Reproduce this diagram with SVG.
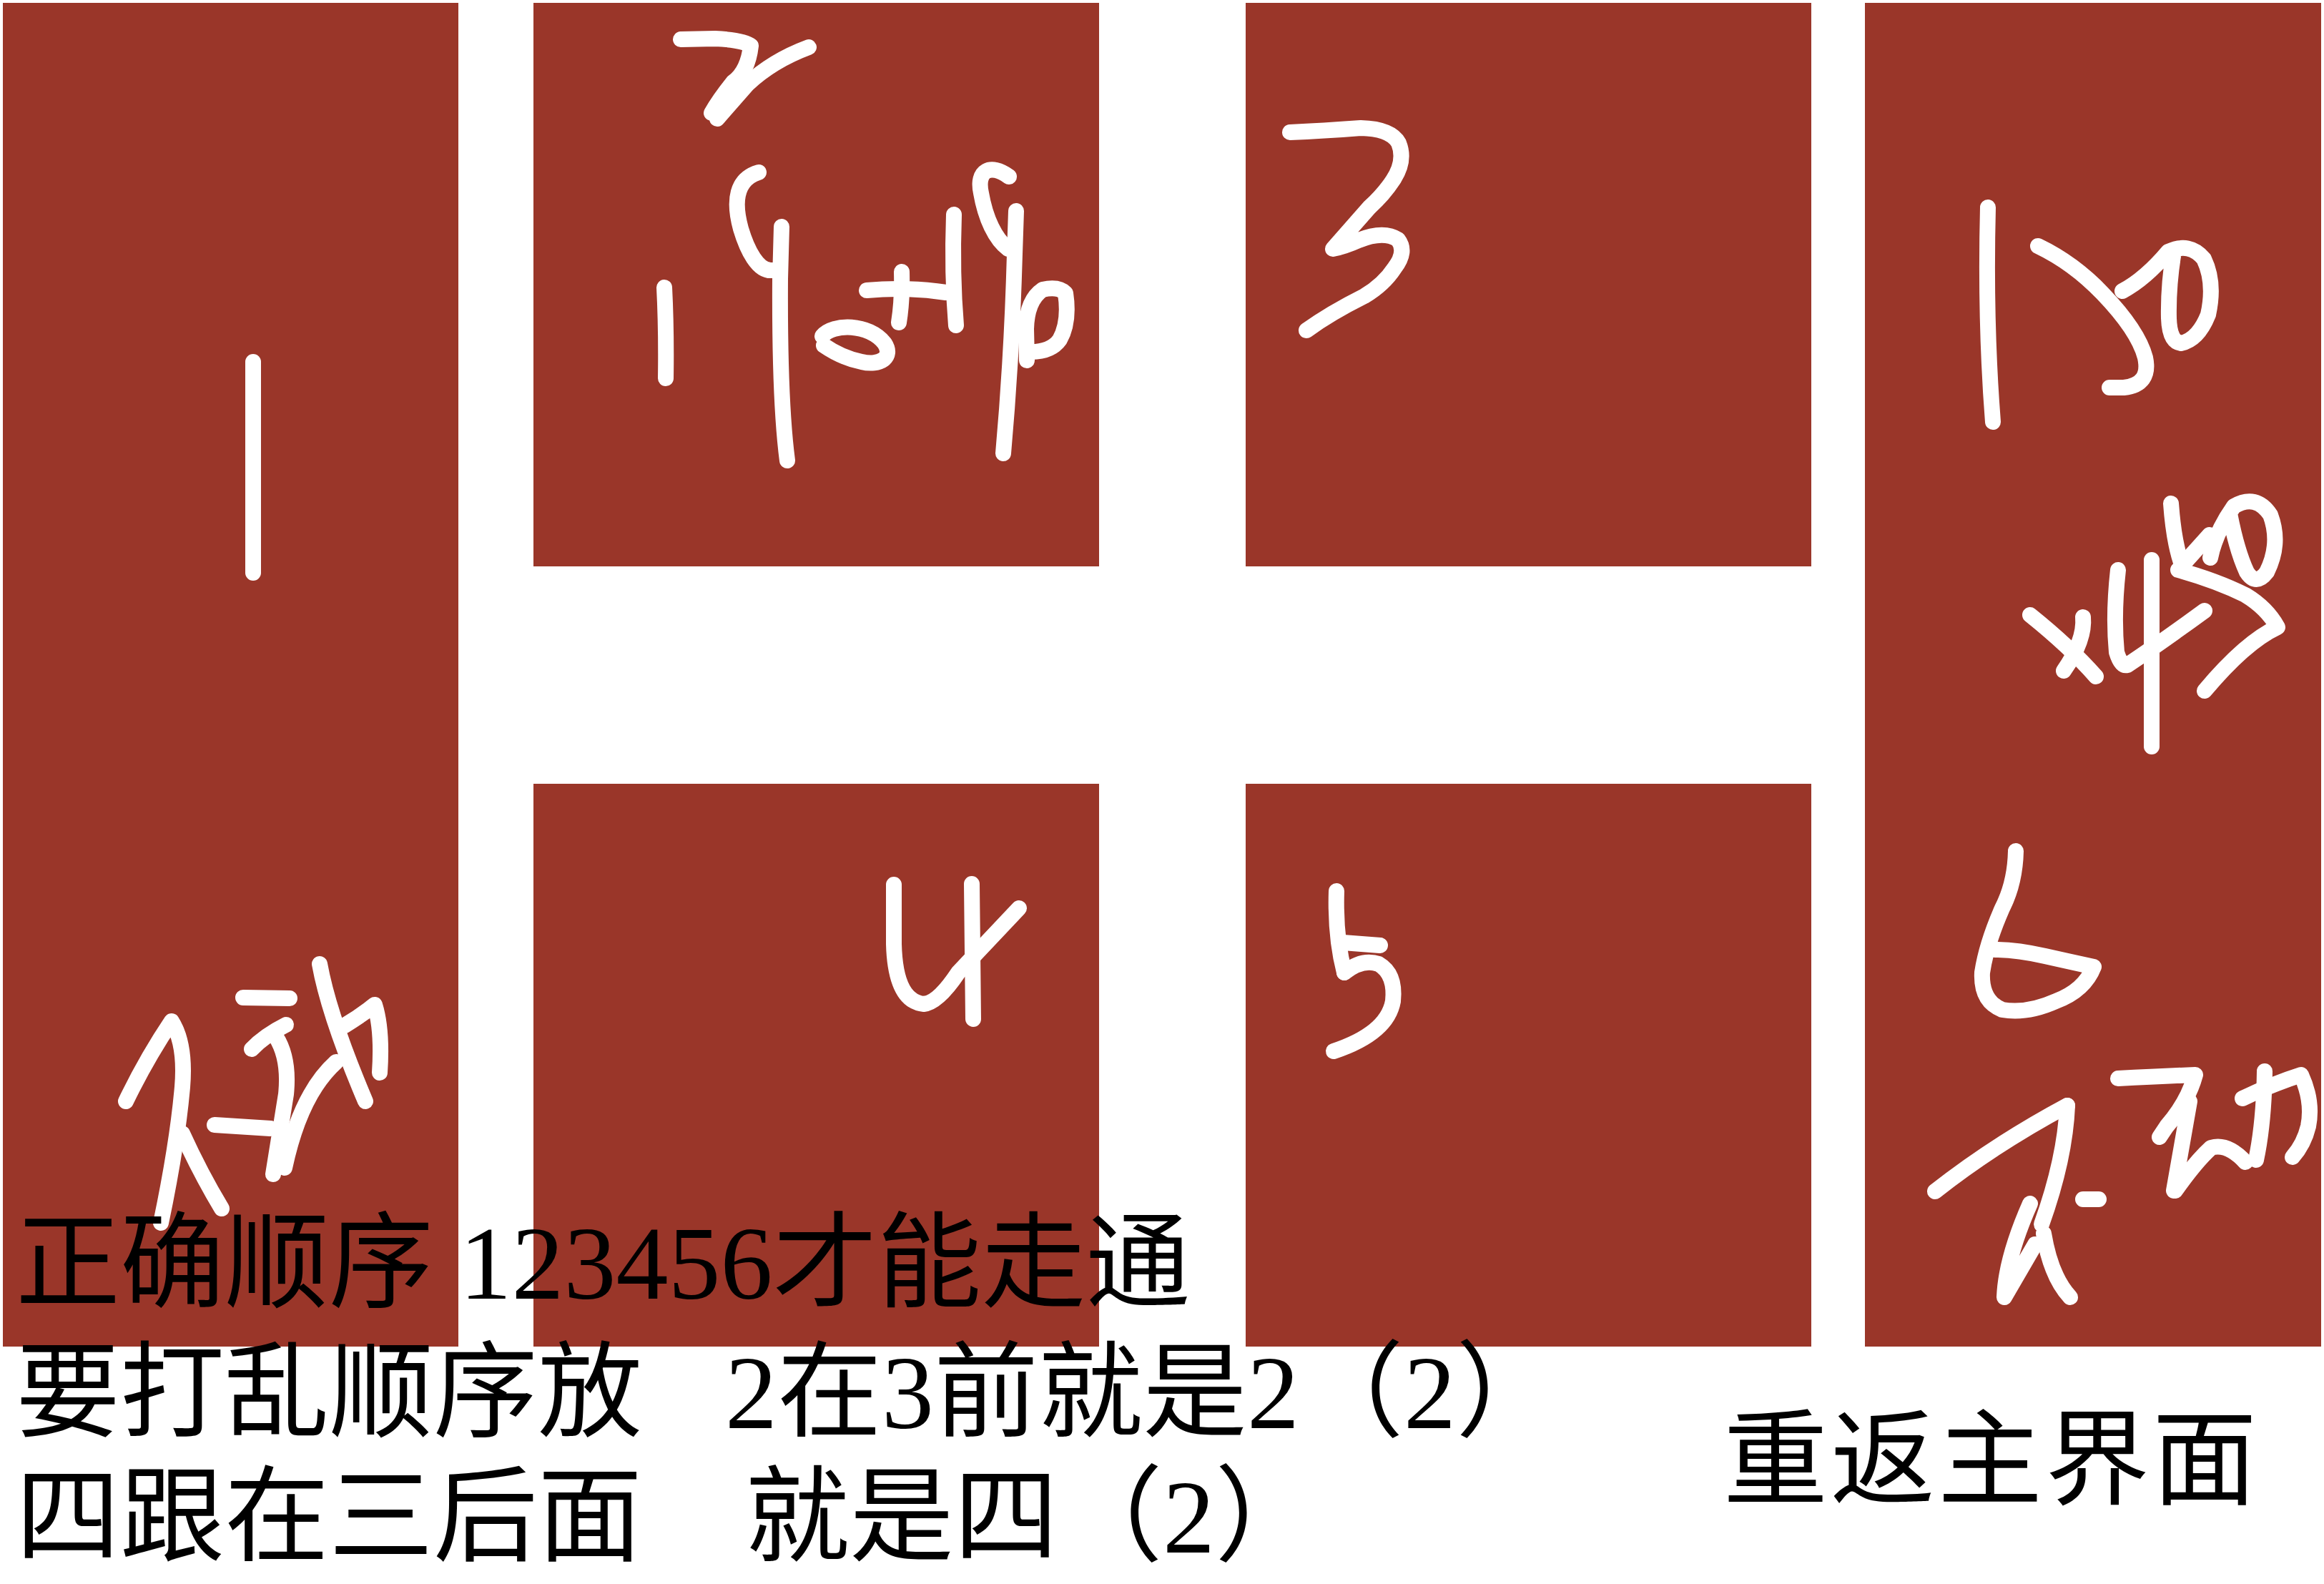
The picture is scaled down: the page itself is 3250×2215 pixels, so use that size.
<svg xmlns="http://www.w3.org/2000/svg" width="3250" height="2215" viewBox="0 0 3250 2215">
<style>
.panel{fill:#9A3629}
.ink{fill:none;stroke:#fff;stroke-width:22;stroke-linecap:round;stroke-linejoin:round}
.t{font-family:'Liberation Serif','Noto Sans CJK SC',serif;font-size:146px;fill:#000}
</style>
<rect width="3250" height="2215" fill="#fff"/>
<g id="panel-1">
<rect class="panel" x="4" y="4" width="637" height="1879"/>
<g class="ink">
<path d="M354,506 L354,801"/>
<path d="M176,1540 Q205,1480 240,1428 Q260,1460 255,1520 Q248,1600 225,1710"/>
<path d="M255,1585 Q280,1640 310,1690"/>
<path d="M300,1573 L378,1578"/>
<path d="M340,1395 L405,1396"/>
<path d="M352,1467 Q370,1448 400,1433"/>
<path d="M386,1450 Q405,1480 400,1530 L382,1642"/>
<path d="M398,1633 Q420,1530 470,1485"/>
<path d="M447,1348 Q460,1420 511,1540"/>
<path d="M482,1434 Q505,1420 524,1405 Q535,1440 531,1500"/>
</g>
</g>
<g id="panel-2">
<rect class="panel" x="746" y="4" width="791" height="788"/>
<g class="ink">
<path d="M952,55 L1000,54 Q1040,56 1050,64 Q1046,100 1025,115 Q1005,140 995,158"/>
<path d="M1003,166 Q1030,135 1045,118 Q1080,85 1131,66"/>
<path d="M929,402 Q932,460 931,529"/>
<path d="M1061,241 C1030,250 1025,280 1036,320 C1045,350 1060,380 1080,378"/>
<path d="M1093,317 L1091,390 Q1090,560 1101,644"/>
<path d="M1150,470 C1165,452 1215,452 1237,480 C1250,500 1230,512 1205,506 C1185,502 1165,492 1152,483"/>
<path d="M1212,406 Q1270,401 1323,409"/>
<path d="M1261,380 Q1262,420 1257,451"/>
<path d="M1334,300 Q1331,383 1337,455"/>
<path d="M1411,247 C1385,228 1365,238 1372,270 C1378,305 1392,335 1410,348"/>
<path d="M1421,295 L1419,355 Q1415,500 1403,634"/>
<path d="M1436,504 L1435,460 Q1436,420 1458,405 Q1480,400 1490,410 Q1496,450 1482,475 Q1470,492 1442,492"/>
</g>
</g>
<g id="panel-3">
<rect class="panel" x="1742" y="4" width="791" height="788"/>
<g class="ink">
<path d="M1804,185 Q1850,183 1903,179 Q1945,180 1956,200 Q1966,225 1948,252 Q1935,272 1915,290 L1864,348 Q1880,345 1900,336 Q1935,322 1955,335 Q1968,352 1950,375 Q1935,398 1908,414 Q1860,438 1827,462"/>
</g>
</g>
<g id="panel-4">
<rect class="panel" x="746" y="1096" width="791" height="787"/>
<g class="ink">
<path d="M1250,1237 L1250,1320 Q1252,1400 1292,1404 Q1312,1402 1340,1360 L1425,1270"/>
<path d="M1359,1236 L1361,1425"/>
</g>
</g>
<g id="panel-5">
<rect class="panel" x="1742" y="1096" width="791" height="787"/>
<g class="ink">
<path d="M1869,1246 Q1867,1310 1880,1360"/>
<path d="M1878,1318 L1930,1322"/>
<path d="M1880,1360 Q1905,1340 1928,1348 Q1952,1362 1948,1400 Q1940,1445 1865,1470"/>
</g>
</g>
<g id="panel-6">
<rect class="panel" x="2608" y="4" width="638" height="1879"/>
<g class="ink">
<path d="M2780,290 Q2776,450 2787,590"/>
<path d="M2850,344 Q2900,368 2940,410 Q2990,462 3000,500 Q3008,538 2970,542 L2950,542"/>
<path d="M2968,407 Q3000,390 3032,352 Q3062,338 3082,362 Q3098,395 3088,440 Q3074,475 3050,480 Q3034,478 3033,445 Q3032,400 3040,352"/>
<path d="M2839,860 Q2895,905 2931,946"/>
<path d="M2913,863 Q2916,895 2886,938"/>
<path d="M2962,797 Q2955,860 2960,912 Q2966,932 2975,930 Q3020,900 3083,854"/>
<path d="M3009,783 L3009,1044"/>
<path d="M3036,704 Q3040,760 3052,792"/>
<path d="M3046,797 Q3100,812 3140,832 Q3170,850 3185,877 Q3140,898 3083,966"/>
<path d="M3052,790 L3090,748"/>
<path d="M3091,780 Q3098,745 3124,708 Q3155,690 3175,720 Q3190,760 3170,800 Q3155,820 3142,800 Q3128,770 3118,718"/>
<path d="M2819,1190 Q2818,1235 2800,1270 Q2778,1320 2772,1360 Q2770,1400 2800,1412 Q2835,1418 2875,1400 Q2915,1385 2928,1352 Q2900,1346 2860,1337 Q2820,1328 2790,1328"/>
<path d="M2706,1666 Q2790,1600 2891,1546"/>
<path d="M2891,1546 Q2888,1620 2855,1712"/>
<path d="M2839,1683 Q2805,1760 2803,1814 L2846,1740"/>
<path d="M2858,1725 Q2868,1785 2895,1814"/>
<path d="M2913,1677 L2935,1677"/>
<path d="M2962,1508 Q3020,1505 3070,1503 Q3060,1540 3030,1575 L3020,1590"/>
<path d="M3062,1540 L3040,1665"/>
<path d="M3042,1665 Q3070,1625 3092,1605 Q3115,1598 3140,1625"/>
<path d="M3136,1536 Q3180,1515 3218,1503 Q3235,1540 3228,1575 Q3222,1600 3206,1618"/>
<path d="M3167,1498 Q3166,1570 3155,1622"/>
</g>
</g>
<g id="notes">
<text class="t" x="22" y="1816">正确顺序 123456才能走通</text>
<text class="t" y="1997"><tspan x="22">要打乱顺序放  </tspan><tspan x="1014">2在3前就是2（2）</tspan></text>
<text class="t" y="2171"><tspan x="22">四跟在三后面  </tspan><tspan x="1042">就是四（2）</tspan></text>
</g>
<g id="back-button">
<text class="t" x="2410" y="2092" letter-spacing="4">重返主界面</text>
</g>
</svg>
